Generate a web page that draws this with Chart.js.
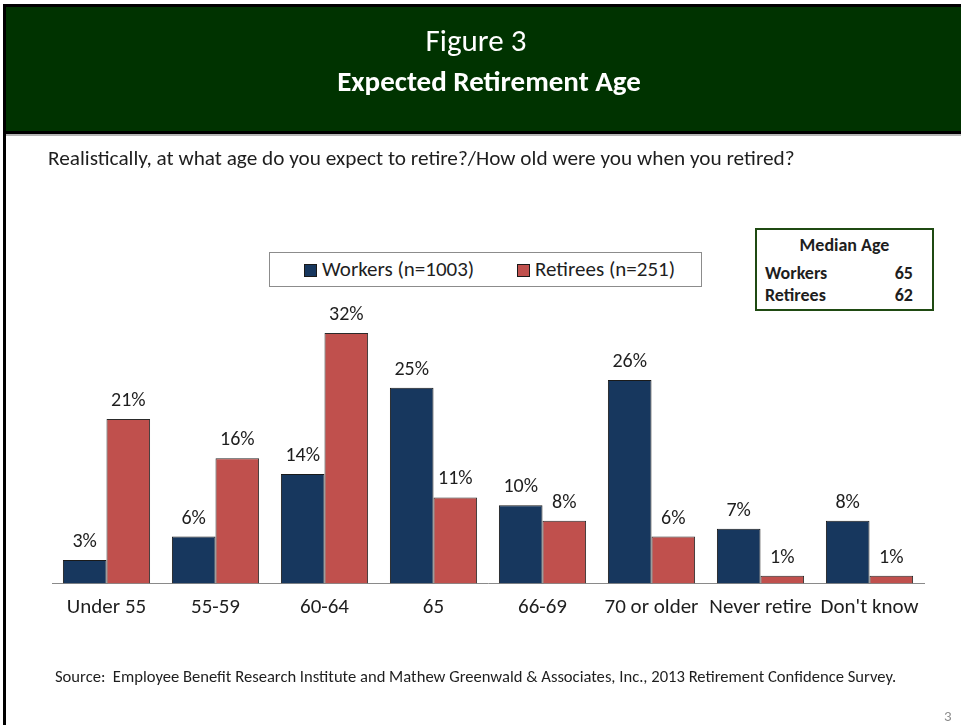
<!DOCTYPE html>
<html>
<head>
<meta charset="utf-8">
<script src="https://cdn.jsdelivr.net/npm/chart.js@4"></script>
<style>
  html, body { margin: 0; padding: 0; background: #fff; }
  body { width: 961px; height: 725px; position: relative; overflow: hidden; font-family: Carlito, Lato, sans-serif; color: #1e1e1e; }
  #chart { position: absolute; left: 0; top: 0; }
  .abs { position: absolute; white-space: pre; line-height: 1.2; }
  #header { position: absolute; left: 3px; top: 4px; width: 970px; height: 124px; background: #003300; border: 3px solid #000; border-right: none; }
  #headerRule { position: absolute; left: 6px; top: 134px; width: 955px; height: 2px; background: #b4b4b4; }
  #pageEdge { position: absolute; left: 3px; top: 134px; width: 3px; height: 591px; background: #000; }
  #title1 { left: 0; width: 952px; text-align: center; top: 22px; font-size: 31px; color: #fff; }
  #title2 { left: 0; width: 978px; text-align: center; top: 63.5px; font-size: 29px; font-weight: bold; color: #fff; }
  #question { left: 48px; top: 146px; font-size: 21.25px; }
  #legend { position: absolute; left: 269px; top: 252px; width: 431px; height: 33px; border: 1px solid #8c8c8c; background: #fff; }
  .legItem { position: absolute; top: 0; height: 33px; line-height: 33px; font-size: 21px; white-space: pre; }
  .legSwatch { display: inline-block; width: 11px; height: 11px; border: 1px solid #1a1a1a; margin-right: 5px; vertical-align: -1px; }
  #median { position: absolute; left: 755px; top: 228px; width: 175px; height: 79px; border: 2px solid #1f4a12; background: #fff; font-weight: bold; font-size: 18px; }
  #median .row { position: absolute; left: 8px; right: 19px; line-height: 20px; }
  #median .row span.v { position: absolute; right: 0; }
  #source { left: 55px; top: 666.5px; font-size: 16.6px; }
  #pageNo { left: 944px; top: 707px; font-size: 15px; color: #8c8c8c; }
</style>
</head>
<body>
<canvas id="chart" width="961" height="725"></canvas>

<div id="header"></div>
<div id="headerRule"></div>
<div id="pageEdge"></div>
<div class="abs" id="title1">Figure 3</div>
<div class="abs" id="title2">Expected Retirement Age</div>
<div class="abs" id="question">Realistically, at what age do you expect to retire?/How old were you when you retired?</div>
<div id="legend"></div>
<div id="median"></div>
<div class="abs" id="source">Source:  Employee Benefit Research Institute and Mathew Greenwald &amp; Associates, Inc., 2013 Retirement Confidence Survey.</div>
<div class="abs" id="pageNo">3</div>

<script>
// Answer categories along the x axis
const categories = ['Under 55', '55-59', '60-64', '65', '66-69', '70 or older', 'Never retire', "Don't know"];

// Share of respondents (%) per category
const workers  = [3, 6, 14, 25, 10, 26, 7, 8];
const retirees = [21, 16, 32, 11, 8, 6, 1, 1];

// Series names and colours
const seriesNames  = ['Workers (n=1003)', 'Retirees (n=251)'];
const seriesColors = ['#17375e', '#c0504d'];

// Median age summary box
const medianTitle  = 'Median Age';
const medianGroups = ['Workers', 'Retirees'];
const medianAges   = [65, 62];

const FONT = 'Carlito, Lato, sans-serif';

// Legend built from the series names
const legendEl = document.getElementById('legend');
const legendX = [34, 247];
seriesNames.forEach((name, i) => {
  const item = document.createElement('div');
  item.className = 'legItem';
  item.style.left = legendX[i] + 'px';
  const sw = document.createElement('span');
  sw.className = 'legSwatch';
  sw.style.background = seriesColors[i];
  item.appendChild(sw);
  item.appendChild(document.createTextNode(name));
  legendEl.appendChild(item);
});

// Median age box
const medEl = document.getElementById('median');
const mt = document.createElement('div');
mt.className = 'row';
mt.style.top = '5px';
mt.style.left = '0'; mt.style.right = '0';
mt.style.textAlign = 'center';
mt.textContent = medianTitle;
medEl.appendChild(mt);
medianGroups.forEach((g, i) => {
  const r = document.createElement('div');
  r.className = 'row';
  r.style.top = (33 + i * 22) + 'px';
  r.textContent = g;
  const v = document.createElement('span');
  v.className = 'v';
  v.textContent = medianAges[i];
  r.appendChild(v);
  medEl.appendChild(r);
});

// Percentage labels above each bar
const barValueLabels = {
  id: 'barValueLabels',
  afterDatasetsDraw(chart) {
    const ctx = chart.ctx;
    ctx.save();
    ctx.font = '20px ' + FONT;
    ctx.fillStyle = '#1e1e1e';
    ctx.textAlign = 'center';
    ctx.textBaseline = 'middle';
    chart.data.datasets.forEach((ds, di) => {
      chart.getDatasetMeta(di).data.forEach((bar, i) => {
        ctx.fillText(ds.data[i] + '%', bar.x, bar.y - 18);
      });
    });
    ctx.restore();
  }
};

const Y_MAX = 35;

new Chart(document.getElementById('chart'), {
  type: 'bar',
  data: {
    labels: categories,
    datasets: [
      { label: seriesNames[0], data: workers,  backgroundColor: seriesColors[0], borderColor: '#1a1a1a', borderWidth: 1 },
      { label: seriesNames[1], data: retirees, backgroundColor: seriesColors[1], borderColor: '#2a2a2a', borderWidth: 1 }
    ]
  },
  options: {
    responsive: false,
    animation: false,
    events: [],
    layout: { padding: { left: 52, right: 37, top: 309.5, bottom: 101.5 } },
    datasets: { bar: { categoryPercentage: 0.8, barPercentage: 1.0 } },
    plugins: { legend: { display: false }, tooltip: { enabled: false } },
    scales: {
      x: {
        grid: { display: true, drawOnChartArea: false, drawTicks: false },
        border: { display: true, color: '#8a8a8a', width: 1 },
        ticks: { color: '#1e1e1e', font: { family: FONT, size: 21 }, padding: 12, maxRotation: 0, autoSkip: false },
        afterFit(scale) { scale.height = 40; }
      },
      y: {
        display: false,
        min: 0,
        max: Y_MAX
      }
    }
  },
  plugins: [barValueLabels]
});
</script>
</body>
</html>
